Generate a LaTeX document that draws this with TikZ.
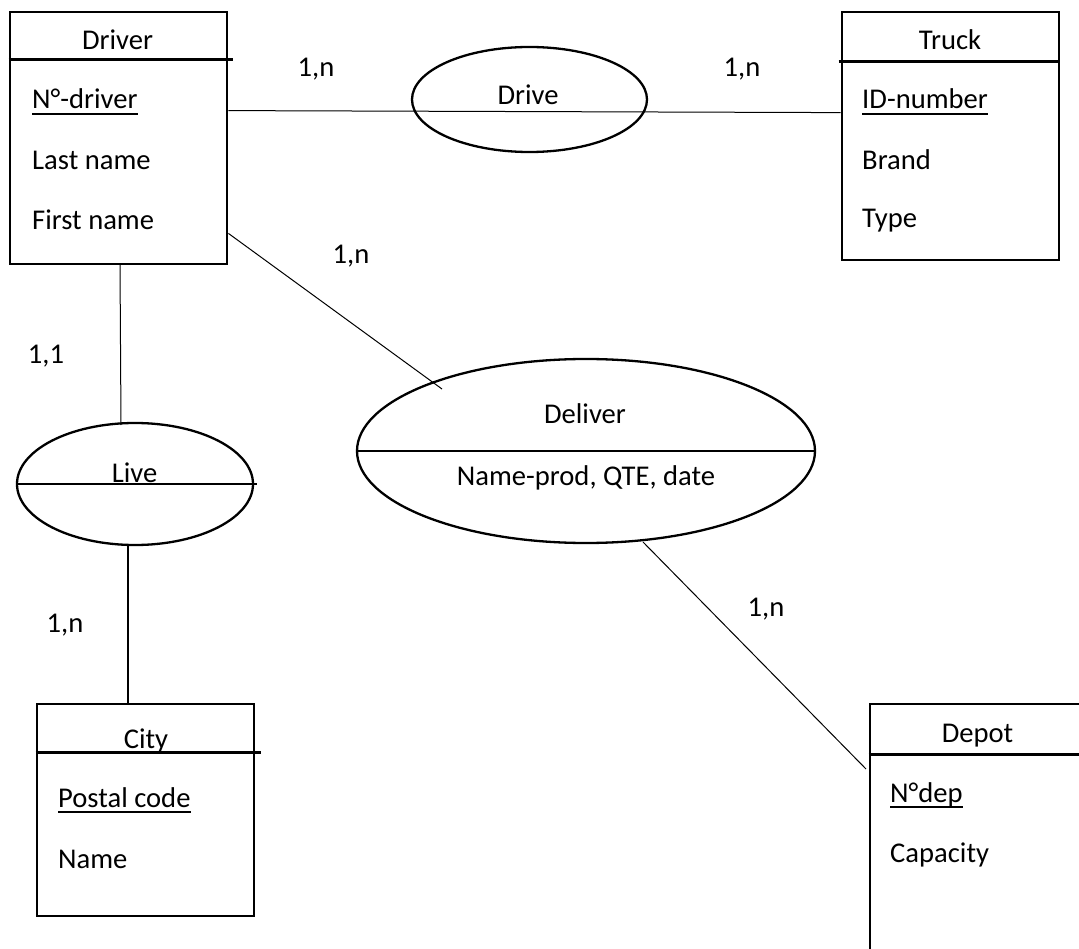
\documentclass[tikz,border=0pt]{standalone}
\usepackage{fontspec}
\setmainfont{Carlito}
\usetikzlibrary{shapes.geometric,calc}
\newcommand{\keyul}[1]{\setbox0\hbox{#1}\rlap{\rule[-6pt]{\wd0}{2pt}}\box0}
\begin{document}
\begin{tikzpicture}[x=1pt,y=-1pt,
  entity/.style={draw, line width=2.8pt, rectangle, inner sep=0},
  assoc/.style={draw, line width=2.3pt, ellipse, inner sep=0},
  sep/.style={line width=2.3pt},
  link/.style={line width=1pt},
  txt/.style={anchor=base west, inner sep=0, font=\fontsize{28.6}{34}\selectfont},
  ctxt/.style={anchor=base, inner sep=0, font=\fontsize{28.6}{34}\selectfont},
]
\useasboundingbox (0,0) rectangle (1079,949);
\clip (0,0) rectangle (1079,949);

% entities
\node[entity, minimum width=217pt, minimum height=252pt] (driver) at (118.5,138) {};
\node[entity, minimum width=217pt, minimum height=248pt] (truck) at (950.5,136) {};
\node[entity, minimum width=217pt, minimum height=212pt] (city) at (145.5,810) {};
\node[entity, minimum width=220pt, minimum height=296pt] (depot) at (980,852) {};

\draw[sep] ($(driver.north west)+(0,49)$) -- ($(driver.north east)+(5,49)$);
\draw[sep] ($(truck.north west)+(-2,51)$) -- ($(truck.north east)+(0,51)$);
\draw[sep] ($(city.north west)+(0,50)$) -- ($(city.north east)+(6,50)$);
\draw[sep] ($(depot.north west)+(0,52)$) -- ($(depot.north east)+(0,52)$);

% entity texts
\node[ctxt] (driverT) at (117.5,50) {Driver};
\node[txt] (driverA1) at (32,109) {\keyul{N°-driver}};
\node[txt] (driverA2) at (32,170) {Last name};
\node[txt] (driverA3) at (32,230) {First name};

\node[ctxt] (truckT) at (950,50) {Truck};
\node[txt] (truckA1) at (862,109) {\keyul{ID-number}};
\node[txt] (truckA2) at (862,170) {Brand};
\node[txt] (truckA3) at (862,228) {Type};

\node[ctxt] (cityT) at (146,748) {City};
\node[txt] (cityA1) at (58,807) {\keyul{Postal code}};
\node[txt] (cityA2) at (58,868) {Name};

\node[ctxt] (depotT) at (977.5,742) {Depot};
\node[txt] (depotA1) at (890,802) {\keyul{N°dep}};
\node[txt] (depotA2) at (890,862) {Capacity};

% associations
\node[assoc, minimum width=235pt, minimum height=105pt] (drive) at (529.5,99.5) {};
\node[ctxt] (driveT) at (528,105) {Drive};

\node[assoc, minimum width=236pt, minimum height=122pt] (live) at (135,484) {};
\draw[sep] (live.west) -- ($(live.east)+(3,0)$);
\node[ctxt] (liveT) at (134.5,482) {Live};

\node[assoc, minimum width=458pt, minimum height=184pt] (deliver) at (586,451) {};
\draw[sep] (deliver.west) -- (deliver.east);
\node[ctxt] (deliverT) at (585,424) {Deliver};
\node[ctxt] (deliverA) at (586,485) {Name-prod, QTE, date};

% connector end points
\coordinate (dvE) at ($(driver.north east)+(0,100)$);
\coordinate (trW) at ($(truck.north west)+(0,102)$);
\coordinate (dvSE) at ($(driver.south east)+(0,-32)$);
\coordinate (dlIn) at (442,389);
\coordinate (dvS) at (120,264);
\coordinate (lvN) at (121,425);
\coordinate (lvS) at (128,545);
\coordinate (ctN) at (128,704);
\coordinate (dlS) at (643,542);
\coordinate (dpW) at (866,769);

% connectors
\draw[link] (dvE) -- (trW);
\draw[link] (dvSE) -- (dlIn);
\draw[link] (dvS) -- (lvN);
\draw[line width=1.8pt] (lvS) -- (ctN);
\draw[link] (dlS) -- (dpW);

% cardinalities
\node[ctxt] (c1) at (316,77) {1,n};
\node[ctxt] (c2) at (742,77) {1,n};
\node[ctxt] (c3) at (351,264) {1,n};
\node[ctxt] (c4) at (46,364) {1,1};
\node[ctxt] (c5) at (65,632) {1,n};
\node[ctxt] (c6) at (766,616) {1,n};
\end{tikzpicture}
\end{document}
